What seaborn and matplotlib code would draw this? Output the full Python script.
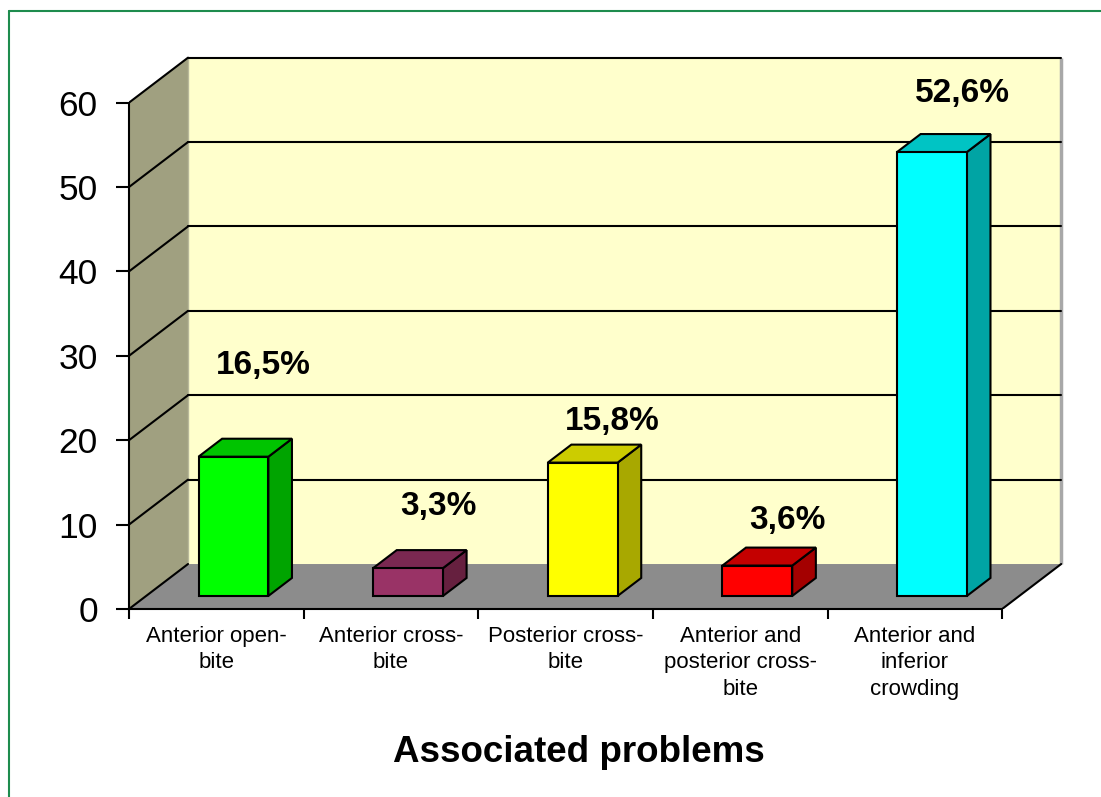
import matplotlib
matplotlib.use("Agg")
import matplotlib.pyplot as plt
import seaborn as sns
import pandas as pd
from matplotlib.patches import Polygon
from matplotlib.lines import Line2D

# ---- data ----
categories = ["Anterior open-\nbite", "Anterior cross-\nbite", "Posterior cross-\nbite",
              "Anterior and\nposterior cross-\nbite", "Anterior and\ninferior\ncrowding"]
values = [16.5, 3.3, 15.8, 3.6, 52.6]
value_labels = ["16,5%", "3,3%", "15,8%", "3,6%", "52,6%"]
yticks = [0, 10, 20, 30, 40, 50, 60]
xlabel = "Associated problems"

# ---- styles ----
front_colors = ["#00FF00", "#993366", "#FFFF00", "#FF0000", "#00FFFF"]
top_colors = ["#00C400", "#7A2851", "#CCCC00", "#C40000", "#00C4C4"]
side_colors = ["#00A400", "#66203F", "#A8A800", "#A40000", "#00A4A4"]
label_dx = 0.27
label_dy = [12.4, 8.8, 6.4, 6.9, 8.5]

DX, DY = 0.338, 5.33      # full depth offset in data units
F0, FD = 0.29, 0.40       # bar front depth fraction, bar depth fraction

sns.set_theme(style="white")
plt.rcParams['font.family'] = ['Liberation Sans', 'DejaVu Sans']

fig = plt.figure(figsize=(11.01, 7.97), dpi=100)
ax = fig.add_axes([129/1101, 188/797, 943/1101, 557/797])
ax.patch.set_visible(False)

df = pd.DataFrame({"cat": categories, "val": values})
sns.barplot(data=df, x="cat", y="val", hue="cat", palette=front_colors, width=0.4,
            edgecolor="black", linewidth=1.5, legend=False, ax=ax, zorder=5,
            saturation=1)

ax.set_xlim(-0.5, 4.9)
ax.set_ylim(0, 66)
ymax = yticks[-1]
x0w, x1w = -0.5, len(categories) - 0.5

# walls and floor
ax.add_patch(Polygon([(x0w + DX, DY), (x1w + DX, DY), (x1w + DX, ymax + DY), (x0w + DX, ymax + DY)],
                     closed=True, facecolor="#FFFFCC", edgecolor="none", zorder=0))
ax.add_patch(Polygon([(x0w, 0), (x0w + DX, DY), (x0w + DX, ymax + DY), (x0w, ymax)],
                     closed=True, facecolor="#A0A080", edgecolor="none", zorder=0))
ax.add_patch(Polygon([(x0w, 0), (x1w, 0), (x1w + DX, DY), (x0w + DX, DY)],
                     closed=True, facecolor="#8C8C8C", edgecolor="none", zorder=0.5))
# right edge shading of back wall
ax.plot([x1w + DX, x1w + DX], [DY, ymax + DY], color="#A8A8A8", lw=2.5, zorder=0.6,
        solid_capstyle="butt")
ax.plot([x0w + DX, x0w + DX], [DY, ymax + DY], color="#B8B89A", lw=1.0, zorder=0.6)

# gridlines
for t in yticks:
    if t > 0:
        ax.plot([x0w + DX, x1w + DX], [t + DY, t + DY], color="black", lw=1.5, zorder=1)
    ax.plot([x0w, x0w + DX], [t, t + DY], color="black", lw=1.5, zorder=1)
ax.plot([x1w, x1w + DX], [0, DY], color="black", lw=1.5, zorder=1)

# 3D bar faces
bars = [pp for pp in ax.patches if pp.get_zorder() == 5]
for i, p in enumerate(bars):
    x0 = p.get_x()
    w = p.get_width()
    h = p.get_height()
    ox, oy = F0 * DX, F0 * DY
    p.set_x(x0 + ox)
    p.set_y(oy)
    bx, by = FD * DX, FD * DY
    xl, xr = x0 + ox, x0 + ox + w
    ax.add_patch(Polygon([(xr, oy), (xr + bx, oy + by), (xr + bx, oy + by + h), (xr, oy + h)],
                         closed=True, facecolor=side_colors[i], edgecolor="black", lw=1.5, zorder=4))
    ax.add_patch(Polygon([(xl, oy + h), (xr, oy + h), (xr + bx, oy + h + by), (xl + bx, oy + h + by)],
                         closed=True, facecolor=top_colors[i], edgecolor="black", lw=1.5, zorder=4))

# value labels
for i, (v, lab) in enumerate(zip(values, value_labels)):
    ax.text(i + label_dx, v + label_dy[i], lab, ha="center", va="center",
            fontsize=24, fontweight="bold", color="black", zorder=6)

# axes styling
for s in ["top", "right"]:
    ax.spines[s].set_visible(False)
for s in ["left", "bottom"]:
    ax.spines[s].set_color("black")
    ax.spines[s].set_linewidth(1.5)
    ax.spines[s].set_zorder(3)
ax.spines["left"].set_bounds(0, ymax)
ax.spines["bottom"].set_bounds(x0w, x1w)

ax.set_yticks(yticks)
ax.set_yticklabels([str(t) for t in yticks])
ax.tick_params(axis="y", left=True, length=9.5, width=1.5, pad=13, labelsize=25.5,
               color="black", labelcolor="black", direction="out")
ax.set_xticks(range(len(categories)))
ax.set_xticklabels(categories, linespacing=1.35)
ax.set_xticks([k - 0.5 for k in range(len(categories) + 1)], minor=True)
ax.tick_params(axis="x", which="major", bottom=True, length=0, pad=12, labelsize=16,
               labelcolor="black")
ax.tick_params(axis="x", which="minor", bottom=True, length=7, width=1.5, color="black",
               direction="out")
ax.set_xlabel("")
ax.set_ylabel("")

fig.text(579/1101, 1 - 752/797, xlabel, ha="center", va="center", fontsize=26.5,
         fontweight="bold", color="black")

# outer green frame (left and top)
fig.add_artist(Line2D([9/1101, 9/1101], [0, 1 - 11/797], transform=fig.transFigure,
                      color="#1E8C4E", lw=1.5))
fig.add_artist(Line2D([9/1101, 1], [1 - 11/797, 1 - 11/797], transform=fig.transFigure,
                      color="#1E8C4E", lw=1.5))

fig.savefig("out.png", dpi=100)
